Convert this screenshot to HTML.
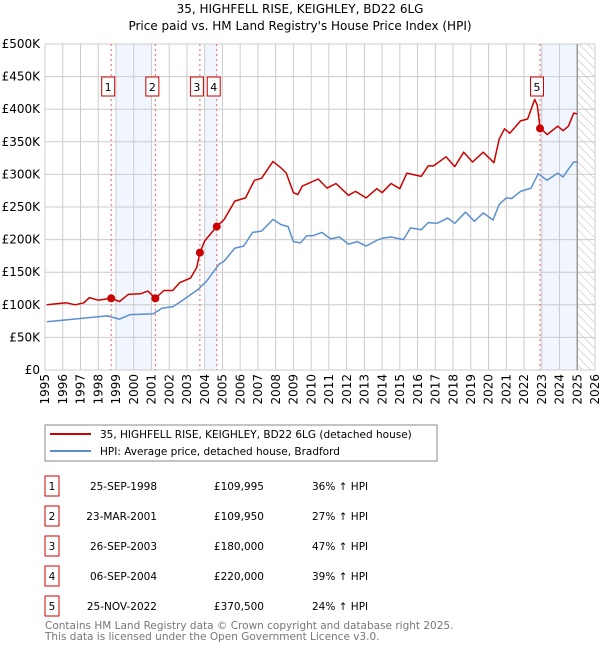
<!DOCTYPE html>
<html><head><meta charset="utf-8"><style>
body{margin:0;background:#fff;font-family:"Liberation Sans","DejaVu Sans",sans-serif;}
svg text{font-family:"DejaVu Sans","Liberation Sans",sans-serif;}
</style></head><body>
<svg id="c" width="600" height="650" xmlns="http://www.w3.org/2000/svg">
<defs><pattern id="hatch" width="6" height="6" patternUnits="userSpaceOnUse" patternTransform="rotate(-45)"><line x1="0" y1="0" x2="0" y2="6" stroke="#bbb" stroke-width="1"/></pattern></defs>
<text x="300" y="13" text-anchor="middle" font-size="12">35, HIGHFELL RISE, KEIGHLEY, BD22 6LG</text>
<text x="300" y="30" text-anchor="middle" font-size="12">Price paid vs. HM Land Registry's House Price Index (HPI)</text>
<g id="plot"></g>
<rect x="45" y="425" width="392" height="36" fill="#fff" stroke="#888"/>
<line x1="50" y1="434" x2="91" y2="434" stroke="#cc0000" stroke-width="2"/>
<text x="100" y="438" font-size="10.5">35, HIGHFELL RISE, KEIGHLEY, BD22 6LG (detached house)</text>
<line x1="50" y1="451" x2="91" y2="451" stroke="#5b8fd0" stroke-width="2"/>
<text x="100" y="455" font-size="10.5">HPI: Average price, detached house, Bradford</text>
<g id="tbl"></g>
<text x="45" y="629" font-size="10.5" fill="#777">Contains HM Land Registry data © Crown copyright and database right 2025.</text>
<text x="45" y="640" font-size="10.5" fill="#777">This data is licensed under the Open Government Licence v3.0.</text>
</svg>
<script>
const hpiYears=[1995.1,1998.5,1999.2,1999.8,2001.1,2001.6,2002.2,2002.6,2003.6,2004.1,2004.8,2005.1,2005.7,2006.2,2006.7,2007.2,2007.85,2008.3,2008.7,2009.0,2009.4,2009.75,2010.1,2010.6,2011.1,2011.6,2012.1,2012.6,2013.1,2013.7,2014.0,2014.5,2015.0,2015.2,2015.6,2016.2,2016.6,2017.1,2017.7,2018.1,2018.7,2019.2,2019.7,2020.25,2020.6,2021.0,2021.3,2021.8,2022.4,2022.8,2023.3,2023.9,2024.2,2024.5,2024.8,2025.0];
const hpiValues=[74,83,78,85,86,95,97,104,123,136,162,167,187,190,211,213,231,223,220,197,195,206,206,211,201,204,193,197,190,199,202,204,201,200,218,215,226,225,233,225,242,228,241,230,254,264,263,274,279,301,291,302,296,308,319,319];
const ppYears=[1995.1,1996.2,1996.7,1997.2,1997.5,1998.0,1998.73,1999.2,1999.7,2000.4,2000.8,2001.22,2001.7,2002.2,2002.6,2003.2,2003.55,2003.73,2004.0,2004.68,2005.1,2005.7,2006.3,2006.8,2007.2,2007.85,2008.3,2008.6,2009.0,2009.25,2009.5,2009.9,2010.4,2010.9,2011.4,2012.1,2012.5,2013.1,2013.7,2014.0,2014.5,2015.0,2015.4,2016.2,2016.6,2016.9,2017.6,2018.1,2018.6,2019.1,2019.7,2020.3,2020.6,2020.9,2021.2,2021.8,2022.2,2022.6,2022.75,2022.9,2023.3,2023.9,2024.2,2024.5,2024.8,2025.0];
const ppValues=[100,103,100,103,111,107,110,105,116,117,121,110,122,122,134,141,157,180,198,220,231,259,264,291,294,320,310,302,272,269,282,287,293,279,286,268,274,264,278,272,286,278,302,297,313,313,327,312,334,319,334,318,354,370,363,382,385,415,406,372,361,374,367,374,394,393];
const saleYears=[1998.73,2001.22,2003.73,2004.68,2022.9];
const salePrices=[109.995,109.95,180,220,370.5];
const saleLabels=["1","2","3","4","5"];
const saleDates=["25-SEP-1998","23-MAR-2001","26-SEP-2003","06-SEP-2004","25-NOV-2022"];
const salePriceText=["£109,995","£109,950","£180,000","£220,000","£370,500"];
const salePct=["36% ↑ HPI","27% ↑ HPI","47% ↑ HPI","39% ↑ HPI","24% ↑ HPI"];
const yTicks=[0,50,100,150,200,250,300,350,400,450,500];
const yTickLabels=["£0","£50K","£100K","£150K","£200K","£250K","£300K","£350K","£400K","£450K","£500K"];
const xTicks=[1995,1996,1997,1998,1999,2000,2001,2002,2003,2004,2005,2006,2007,2008,2009,2010,2011,2012,2013,2014,2015,2016,2017,2018,2019,2020,2021,2022,2023,2024,2025,2026];
const bands=[[1999.0,2001.0],[2004.0,2004.68],[2022.9,2025.0]];
const X0=45,X1=595,Y0=370,Y1=44;
const xs=y=>X0+(y-1995)/(2026-1995)*(X1-X0);
const ys=v=>Y0-v/500*(Y0-Y1);
const NS="http://www.w3.org/2000/svg";
const plot=document.getElementById('plot');
function mk(tag,at,parent){const e=document.createElementNS(NS,tag);for(const k in at)e.setAttribute(k,at[k]);(parent||plot).appendChild(e);return e;}
bands.forEach(b=>{const r=mk('rect',{x:xs(b[0]),y:Y1,width:xs(b[1])-xs(b[0]),height:Y0-Y1,fill:'#eef3fc',opacity:0.8});

});
const h=mk('rect',{x:xs(2025.0),y:Y1,width:X1-xs(2025.0),height:Y0-Y1,fill:'url(#hatch)'});


yTicks.forEach((v,i)=>{const l=mk('line',{x1:X0,x2:X1,y1:ys(v),y2:ys(v),stroke:'#ccc'});


const t=mk('text',{x:40,y:ys(v)+4,'text-anchor':'end','font-size':12});t.textContent=yTickLabels[i];

});
xTicks.forEach(y=>{const l=mk('line',{x1:xs(y),x2:xs(y),y1:Y1,y2:Y0,stroke:'#ccc'});


const t=mk('text',{x:xs(y),y:Y0+4,'text-anchor':'end','font-size':12,transform:`rotate(-90 ${xs(y)} ${Y0+4})`,dy:'0.35em'});t.textContent=y;

});
const vline=mk('line',{x1:xs(2025.0),x2:xs(2025.0),y1:Y1,y2:Y0,stroke:'#999','stroke-width':1.5});


saleYears.forEach((y,i)=>{const l=mk('line',{x1:xs(y),x2:xs(y),y1:Y1,y2:Y0,stroke:'#f06060','stroke-dasharray':'2,3'});

});
function path(xa,va,col,name){const d=xa.map((y,i)=>(i?'L':'M')+xs(y).toFixed(1)+','+ys(va[i]).toFixed(1)).join('');
const p=mk('path',{d:d,fill:'none',stroke:col,'stroke-width':1.5,'stroke-linejoin':'round'});

}
path(hpiYears,hpiValues,'#5b8fd0','hpi-line');
path(ppYears,ppValues,'#cc0000','price-paid-line');
saleYears.forEach((y,i)=>{const c=mk('circle',{cx:xs(y),cy:ys(salePrices[i]),r:4,fill:'#cc0000'});


const cx=xs(y)-3;
const r=mk('rect',{x:cx-6.5,y:77,width:13,height:19,fill:'#fff',stroke:'#cc0000'});


const t=mk('text',{x:cx,y:91,'text-anchor':'middle','font-size':11});t.textContent=saleLabels[i];

});
const tbl=document.getElementById('tbl');
saleLabels.forEach((s,i)=>{const y=483+i*30;
const r=mk('rect',{x:45,y:y-7,width:14,height:20,fill:'#fff',stroke:'#cc0000'},tbl);


const cols=[[52,s,'middle','table-row-number'],[157,saleDates[i],'end','table-row-date'],[264,salePriceText[i],'end','table-row-price'],[312,salePct[i],'start','table-row-hpi-change']];
cols.forEach(c=>{const t=mk('text',{x:c[0],y:y+7,'text-anchor':c[2],'font-size':10.5},tbl);t.textContent=c[1];

});});
</script>
</body></html>
